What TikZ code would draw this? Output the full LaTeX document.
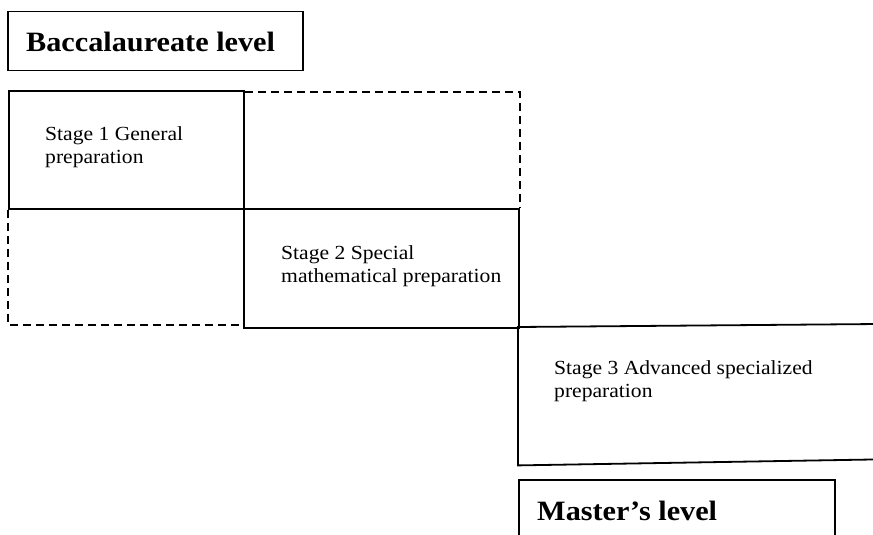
\documentclass[tikz,border=0pt]{standalone}
\usepackage{fontspec}
\setmainfont{Liberation Serif}[FakeStretch=1.08]
\begin{document}
\begin{tikzpicture}[x=1pt,y=-1pt,
  box/.style={draw, line width=1.8pt, inner sep=0pt, rectangle},
  openbox/.style={inner sep=0pt, rectangle},
  ghost/.style={line width=1.8pt, dash pattern=on 8pt off 5pt},
  solidline/.style={line width=1.8pt},
  stagetxt/.style={anchor=base west, inner sep=0pt, align=left, font=\fontsize{20}{22.5}\selectfont},
  leveltxt/.style={anchor=base west, inner sep=0pt, font=\fontsize{28}{30}\selectfont\bfseries}]
\useasboundingbox (0,0) rectangle (873,535);
\clip (0,0) rectangle (873,535);
% level boxes
\node[box, line width=1.5pt, minimum width=295pt, minimum height=59pt, anchor=north west] (bacc) at (7,11) {};
\node[box, line width=1.5pt, minimum width=316pt, minimum height=70pt, anchor=north west] (mast) at (518,479) {};
% stage boxes
\node[box, minimum width=235pt, minimum height=118pt, anchor=north west] (s1) at (8,90) {};
\node[box, minimum width=275pt, minimum height=119pt, anchor=north west] (s2) at (243,208) {};
\node[openbox, minimum width=360pt, minimum height=138pt, anchor=north west] (s3) at (518,327) {};
\draw[solidline] ([yshift=3pt]s3.north east) -- (s3.north west) -- (s3.south west) -- ([yshift=6pt]s3.south east);
% dashed ghost outlines
\draw[ghost] ([yshift=-2pt]s1.north east) -- ([yshift=-2pt]s2.north east |- s1.north) -- (s2.north east);
\draw[ghost] (s1.south west) -- ([yshift=4pt]s1.south west |- s2.south) -- ([yshift=4pt]s2.south west);
% texts
\node[leveltxt] (bacctxt) at (26,52) {Baccalaureate level};
\node[leveltxt] (masttxt) at (537,520) {Master’s level};
\node[stagetxt] (s1txt) at (45,163) {Stage 1 General\\preparation};
\node[stagetxt] (s2txt) at (281,282) {Stage 2 Special\\mathematical preparation};
\node[stagetxt] (s3txt) at (554,397) {Stage 3 Advanced specialized\\preparation};
\end{tikzpicture}
\end{document}
